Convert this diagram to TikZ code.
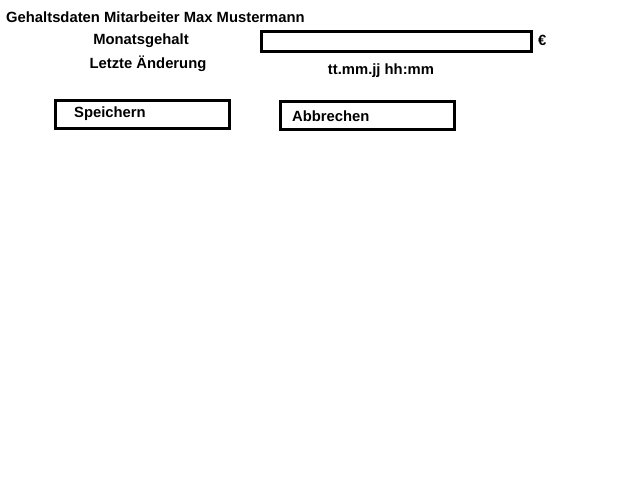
\documentclass[tikz,border=0pt]{standalone}
\usepackage{fontspec}
\setmainfont{Liberation Sans}
\begin{document}
\begin{tikzpicture}[x=1pt,y=-1pt,
  lbl/.style={inner sep=0pt,font=\fontsize{14.8}{16}\selectfont\bfseries},
  boxs/.style={draw=black,line width=3pt}]
\useasboundingbox[fill=white] (0,0) rectangle (640,480);
\node[lbl,anchor=base west] (title) at (6,22) {Gehaltsdaten Mitarbeiter Max Mustermann};
\node[lbl,anchor=base] (monat) at (141,44) {Monatsgehalt};
\draw[boxs] (261,31) rectangle (531,51);
\coordinate (inputc) at (396,41);
\node[lbl,anchor=base west] (euro) at (538,45) {€};
\node[lbl,anchor=base] (letzte) at (148,68) {Letzte Änderung};
\node[lbl,anchor=base] (datum) at (381,74) {tt.mm.jj hh:mm};
\draw[boxs] (55,100) rectangle (229,128);
\node[lbl,anchor=base west] (savet) at (74,117) {Speichern};
\draw[boxs] (280,101) rectangle (454,129);
\node[lbl,anchor=base west] (cancelt) at (292,121) {Abbrechen};
\end{tikzpicture}
\end{document}
